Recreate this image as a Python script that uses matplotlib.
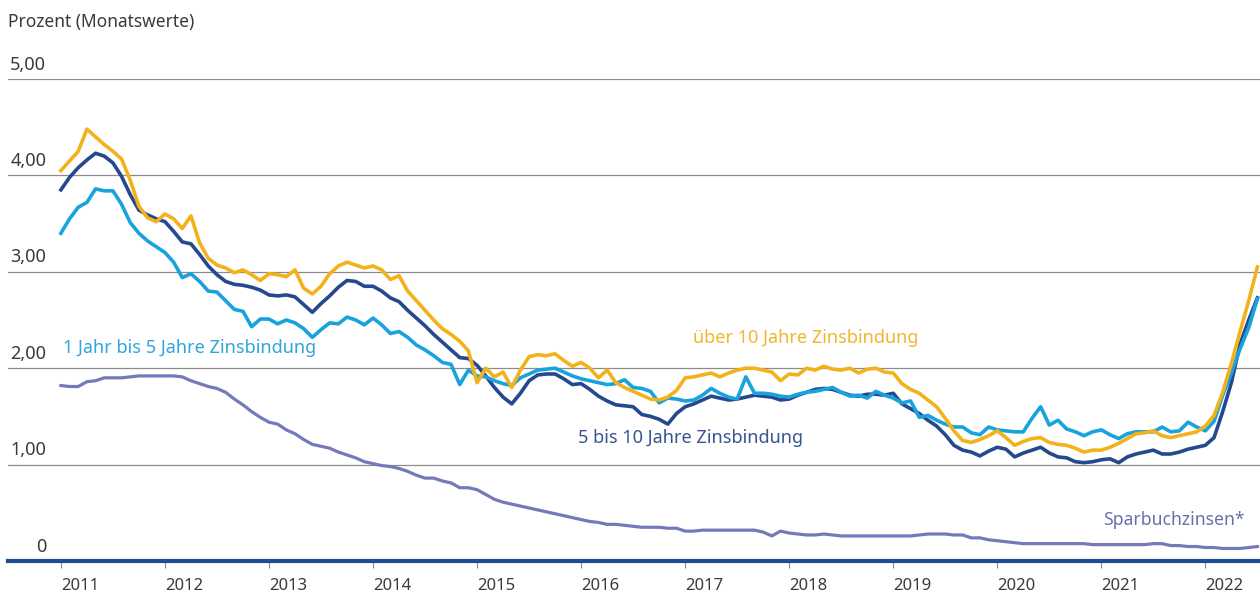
import numpy as np
import matplotlib.pyplot as plt

plt.rcParams['font.family'] = ['Noto Sans', 'DejaVu Sans']

# Monatswerte Jan 2011 .. Jul 2022, eine Zeile je Jahr
ueber_10 = [
    4.05, 4.15, 4.25, 4.48, 4.40, 4.32, 4.25, 4.17, 3.95, 3.68, 3.56, 3.52,
    3.60, 3.55, 3.45, 3.58, 3.30, 3.14, 3.07, 3.04, 2.99, 3.02, 2.97, 2.91,
    2.98, 2.97, 2.95, 3.02, 2.83, 2.77, 2.85, 2.98, 3.06, 3.10, 3.07, 3.04,
    3.06, 3.02, 2.92, 2.96, 2.80, 2.70, 2.60, 2.50, 2.41, 2.35, 2.28, 2.18,
    1.85, 2.00, 1.91, 1.96, 1.80, 1.98, 2.12, 2.14, 2.13, 2.15, 2.08, 2.02,
    2.06, 2.00, 1.90, 1.98, 1.85, 1.80, 1.76, 1.72, 1.68, 1.67, 1.70, 1.77,
    1.90, 1.91, 1.93, 1.95, 1.91, 1.95, 1.98, 2.00, 2.00, 1.98, 1.96, 1.87,
    1.94, 1.93, 2.00, 1.98, 2.02, 1.99, 1.98, 2.00, 1.95, 1.99, 2.00, 1.96,
    1.95, 1.84, 1.78, 1.74, 1.67, 1.60, 1.48, 1.35, 1.25, 1.23, 1.26, 1.30,
    1.35, 1.28, 1.20, 1.24, 1.27, 1.28, 1.23, 1.21, 1.20, 1.17, 1.13, 1.15,
    1.15, 1.18, 1.22, 1.27, 1.32, 1.33, 1.35, 1.30, 1.28, 1.30, 1.32, 1.34,
    1.40, 1.51, 1.75, 2.05, 2.38, 2.70, 3.05,
]
fuenf_bis_10 = [
    3.85, 3.98, 4.08, 4.16, 4.23, 4.20, 4.13, 3.99, 3.80, 3.64, 3.59, 3.55,
    3.52, 3.42, 3.31, 3.29, 3.18, 3.06, 2.97, 2.90, 2.87, 2.86, 2.84, 2.81,
    2.76, 2.75, 2.76, 2.74, 2.66, 2.58, 2.67, 2.75, 2.84, 2.91, 2.90, 2.85,
    2.85, 2.80, 2.73, 2.69, 2.60, 2.52, 2.44, 2.35, 2.27, 2.19, 2.11, 2.10,
    2.03, 1.92, 1.80, 1.70, 1.63, 1.74, 1.87, 1.93, 1.94, 1.94, 1.89, 1.83,
    1.84, 1.78, 1.71, 1.66, 1.62, 1.61, 1.60, 1.52, 1.50, 1.47, 1.42, 1.53,
    1.60, 1.63, 1.67, 1.71, 1.69, 1.67, 1.68, 1.70, 1.72, 1.71, 1.70, 1.67,
    1.68, 1.72, 1.75, 1.78, 1.79, 1.78, 1.75, 1.72, 1.71, 1.73, 1.73, 1.72,
    1.74, 1.63, 1.58, 1.53, 1.46, 1.40, 1.31, 1.20, 1.15, 1.13, 1.09, 1.14,
    1.18, 1.16, 1.08, 1.12, 1.15, 1.18, 1.12, 1.08, 1.07, 1.03, 1.02, 1.03,
    1.05, 1.06, 1.02, 1.08, 1.11, 1.13, 1.15, 1.11, 1.11, 1.13, 1.16, 1.18,
    1.20, 1.28, 1.55, 1.85, 2.25, 2.50, 2.73,
]
ein_bis_5 = [
    3.40, 3.55, 3.67, 3.72, 3.86, 3.84, 3.84, 3.70, 3.51, 3.40, 3.32, 3.26,
    3.20, 3.10, 2.94, 2.98, 2.90, 2.80, 2.79, 2.70, 2.61, 2.59, 2.43, 2.51,
    2.51, 2.46, 2.50, 2.47, 2.41, 2.32, 2.40, 2.47, 2.46, 2.53, 2.50, 2.45,
    2.52, 2.45, 2.36, 2.38, 2.32, 2.24, 2.19, 2.13, 2.06, 2.04, 1.83, 1.98,
    1.92, 1.91, 1.87, 1.84, 1.82, 1.90, 1.94, 1.98, 1.99, 2.00, 1.96, 1.92,
    1.89, 1.87, 1.85, 1.83, 1.84, 1.88, 1.80, 1.79, 1.76, 1.64, 1.69, 1.68,
    1.66, 1.67, 1.72, 1.79, 1.74, 1.70, 1.68, 1.91, 1.74, 1.74, 1.73, 1.71,
    1.70, 1.73, 1.75, 1.76, 1.78, 1.80, 1.75, 1.71, 1.72, 1.69, 1.76, 1.72,
    1.69, 1.64, 1.66, 1.49, 1.51, 1.46, 1.42, 1.39, 1.39, 1.33, 1.31, 1.39,
    1.36, 1.35, 1.34, 1.34, 1.48, 1.60, 1.41, 1.46, 1.37, 1.34, 1.30, 1.34,
    1.36, 1.31, 1.27, 1.32, 1.34, 1.34, 1.34, 1.39, 1.34, 1.35, 1.44, 1.39,
    1.35, 1.45, 1.72, 1.95, 2.20, 2.42, 2.72,
]
sparbuch = [
    1.82, 1.81, 1.81, 1.86, 1.87, 1.90, 1.90, 1.90, 1.91, 1.92, 1.92, 1.92,
    1.92, 1.92, 1.91, 1.87, 1.84, 1.81, 1.79, 1.75, 1.68, 1.62, 1.55, 1.49,
    1.44, 1.42, 1.36, 1.32, 1.26, 1.21, 1.19, 1.17, 1.13, 1.10, 1.07, 1.03,
    1.01, 0.99, 0.98, 0.96, 0.93, 0.89, 0.86, 0.86, 0.83, 0.81, 0.76, 0.76,
    0.74, 0.69, 0.64, 0.61, 0.59, 0.57, 0.55, 0.53, 0.51, 0.49, 0.47, 0.45,
    0.43, 0.41, 0.40, 0.38, 0.38, 0.37, 0.36, 0.35, 0.35, 0.35, 0.34, 0.34,
    0.31, 0.31, 0.32, 0.32, 0.32, 0.32, 0.32, 0.32, 0.32, 0.30, 0.26, 0.31,
    0.29, 0.28, 0.27, 0.27, 0.28, 0.27, 0.26, 0.26, 0.26, 0.26, 0.26, 0.26,
    0.26, 0.26, 0.26, 0.27, 0.28, 0.28, 0.28, 0.27, 0.27, 0.24, 0.24, 0.22,
    0.21, 0.20, 0.19, 0.18, 0.18, 0.18, 0.18, 0.18, 0.18, 0.18, 0.18, 0.17,
    0.17, 0.17, 0.17, 0.17, 0.17, 0.17, 0.18, 0.18, 0.16, 0.16, 0.15, 0.15,
    0.14, 0.14, 0.13, 0.13, 0.13, 0.14, 0.15,
]

jahre = [str(j) for j in range(2011, 2023)]
y_werte = [0, 1, 2, 3, 4, 5]
y_labels = ['0', '1,00', '2,00', '3,00', '4,00', '5,00']

GELB = '#f3b21c'
HELLBLAU = '#19a3dd'
DUNKELBLAU = '#24498e'
LILA = '#7479ba'
TEXT = '#3a3a3a'

monate = np.arange(len(ueber_10))

fig = plt.figure(figsize=(12.6, 6.14), dpi=100)
ax = fig.add_axes([8 / 1260, 53 / 614, 1252 / 1260, 482 / 614])

ax.set_xlim(-6.1, 138.3)
ax.set_ylim(0, 5)

# Gitterlinien
for v in y_werte[1:]:
    ax.axhline(v, color='#8c8c8c', lw=0.9, zorder=1)

ax.plot(monate, sparbuch, color=LILA, lw=2.3, zorder=2)
ax.plot(monate, fuenf_bis_10, color=DUNKELBLAU, lw=2.6, zorder=3)
ax.plot(monate, ein_bis_5, color=HELLBLAU, lw=2.6, zorder=4)
ax.plot(monate, ueber_10, color=GELB, lw=2.6, zorder=5)

for s in ['top', 'right', 'left']:
    ax.spines[s].set_visible(False)
ax.spines['bottom'].set_color('#1f4c8c')
ax.spines['bottom'].set_linewidth(3.0)
ax.spines['bottom'].set_zorder(6)

ax.set_yticks([])
ax.set_xticks(np.arange(0, 133, 12))
ax.set_xticklabels(jahre, ha='left', fontsize=12, color=TEXT)
ax.tick_params(axis='x', length=5, width=0.8, color='#8c8c8c', pad=7)

# y-Beschriftung über den Gitterlinien
trans = ax.get_yaxis_transform()
for v, lab in zip(y_werte, y_labels):
    ax.text(0.0305, v + 0.15, lab, transform=trans, ha='right', va='center',
            fontsize=13, color=TEXT)

fig.text(8 / 1260, 1 - 22 / 614, 'Prozent (Monatswerte)', ha='left',
         va='center', fontsize=12.5, color=TEXT)

# Reihenbeschriftungen
def px(x, y):
    return x / 1260, 1 - y / 614

fig.text(*px(63, 348), '1 Jahr bis 5 Jahre Zinsbindung', ha='left',
         va='center', fontsize=13, color='#2fa6dc')
fig.text(*px(693, 338), 'über 10 Jahre Zinsbindung', ha='left',
         va='center', fontsize=13, color='#f2b530')
fig.text(*px(578, 438), '5 bis 10 Jahre Zinsbindung', ha='left',
         va='center', fontsize=13, color='#34558f')
fig.text(*px(1103, 520), 'Sparbuchzinsen*', ha='left',
         va='center', fontsize=12.7, color='#6a70aa')

fig.savefig('out.png', dpi=100)
